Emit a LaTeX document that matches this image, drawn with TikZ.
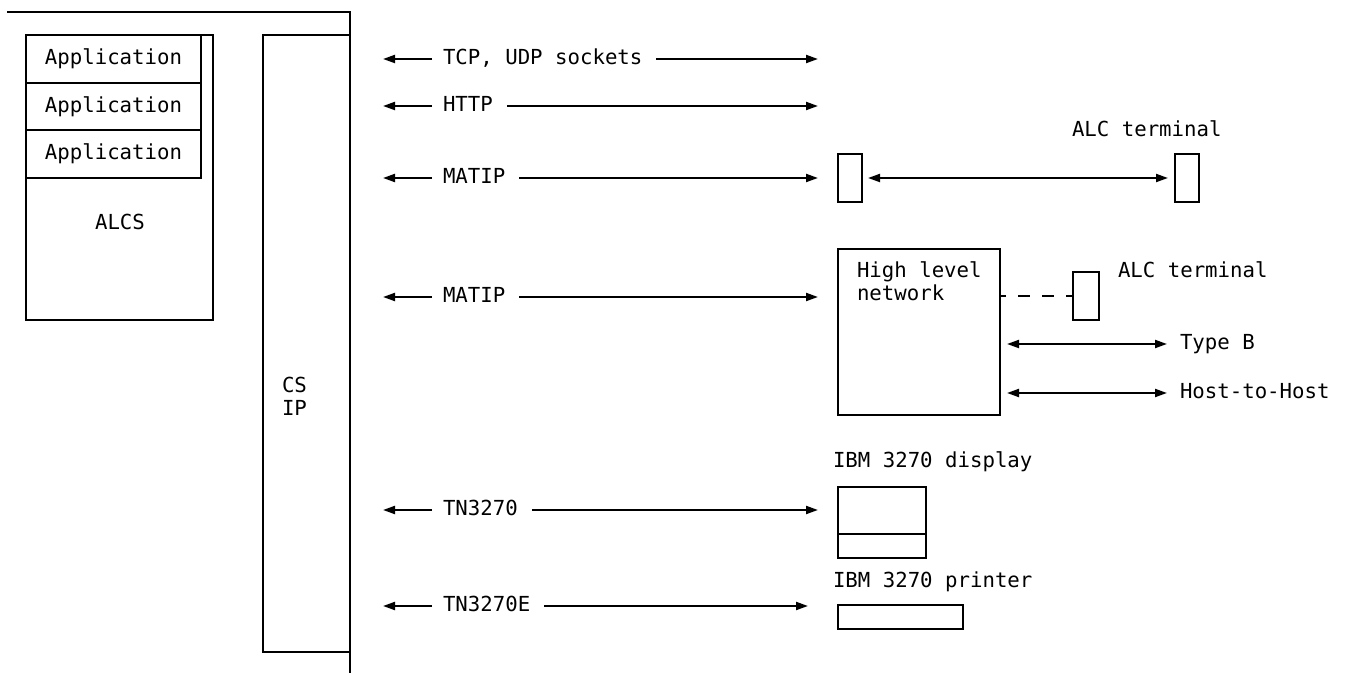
\documentclass[tikz,border=0pt]{standalone}
\usepackage{fontspec}
\newfontfamily\diagfont{DejaVu Sans Mono}
\usetikzlibrary{arrows.meta,calc}
\begin{document}
\begin{tikzpicture}[x=0.5pt, y=-0.5pt,
  every node/.style={inner sep=0pt, outer sep=0pt},
  lw/.style={line width=1pt},
  box/.style={draw, line width=1pt, anchor=north west},
  txt/.style={font=\diagfont\fontsize{10.35}{12.4}\selectfont, text height=7.8pt, text depth=2.2pt},
  lt/.style={txt, anchor=west},
  arr/.style={line width=1pt, -{Triangle[length=6pt,width=4pt]}},
  dbl/.style={line width=1pt, {Triangle[length=6pt,width=4pt]}-{Triangle[length=6pt,width=4pt]}}]

\useasboundingbox (0,0) rectangle (1345,673);

% host frame
\coordinate (ftl) at (7,12);
\coordinate (ftr) at (350,12);
\coordinate (fbr) at (350,673);
\draw[lw] (ftl) -- (ftr) -- (fbr);

% CS / IP stack
\node[box, minimum width=43.5pt, minimum height=308.5pt] (csip) at (263,35) {};
\node[lt] (cs) at (282,387) {CS};
\node[lt] (ip) at (282,410) {IP};

% ALCS with its applications
\node[box, minimum width=93.5pt, minimum height=142.5pt] (alcs) at (26,35) {};
\node[txt] (alcslbl) at (120,224) {ALCS};
\node[box, txt, minimum width=87.5pt, minimum height=24pt] (app1) at (26,35) {Application};
\node[box, txt, minimum width=87.5pt, minimum height=23.5pt] (app2) at (app1.south west) {Application};
\node[box, txt, minimum width=87.5pt, minimum height=24pt] (app3) at (app2.south west) {Application};

% protocol rows
\node[lt] (t1) at (443,59) {TCP, UDP sockets};
\node[lt] (t2) at (443,106) {HTTP};
\node[lt] (t3) at (443,178) {MATIP};
\node[lt] (t4) at (443,297) {MATIP};
\node[lt] (t5) at (443,510) {TN3270};
\node[lt] (t6) at (443,606) {TN3270E};

\foreach \i/\yy in {1/59,2/106,3/178,4/297,5/510,6/606}
  \coordinate (l\i) at (383,\yy);
\coordinate (r1) at (818,59);
\coordinate (r2) at (818,106);
\coordinate (r4) at (818,297);
\coordinate (r5) at (818,510);
\coordinate (r6) at (808,606);

% ALC terminals
\node[box, minimum width=12pt, minimum height=24pt] (term1) at (838,154) {};
\node[box, minimum width=12pt, minimum height=24pt] (term2) at (1175,154) {};
\node[lt] (alc1) at (1072,131) {ALC terminal};
\coordinate (r3) at ($(term1.west)+(-10pt,0)$);

% high level network
\node[box, minimum width=81pt, minimum height=83pt] (hln) at (838,249) {};
\node[lt] (hl1) at (857,272) {High level};
\node[lt] (hl2) at (857,295) {network};
\node[box, minimum width=13pt, minimum height=24pt] (term3) at (1073,272) {};
\node[lt] (alc2) at (1118,272) {ALC terminal};
\node[lt] (typeb) at (1180,344) {Type B};
\node[lt] (h2h) at (1180,393) {Host-to-Host};

% IBM 3270 devices
\node[lt] (displbl) at (833,462) {IBM 3270 display};
\node[box, minimum width=44pt, minimum height=35.5pt] (disp) at (838,487) {};
\draw[lw] ([yshift=-23.5pt]disp.north west) -- ([yshift=-23.5pt]disp.north east);
\node[lt] (prnlbl) at (833,582) {IBM 3270 printer};
\node[box, minimum width=62.5pt, minimum height=12pt] (prn) at (838,605) {};

% arrows on both sides of each protocol label
\foreach \i in {1,...,6} {
  \draw[arr] ([xshift=-5.5pt]t\i.west) -- (l\i);
  \draw[arr] ([xshift=7pt]t\i.east) -- (r\i);
}

\draw[dbl] ([xshift=3pt]term1.east) -- ([xshift=-3.5pt]term2.west);
\draw[lw, dash pattern=on 6pt off 6pt, dash phase=3pt] (hln.east |- term3.west) -- (term3.west);
\draw[dbl] ($(hln.east |- typeb.west)+(3.5pt,0)$) -- ($(typeb.west)+(-6.5pt,0)$);
\draw[dbl] ($(hln.east |- h2h.west)+(3.5pt,0)$) -- ($(h2h.west)+(-6.5pt,0)$);

\end{tikzpicture}
\end{document}
